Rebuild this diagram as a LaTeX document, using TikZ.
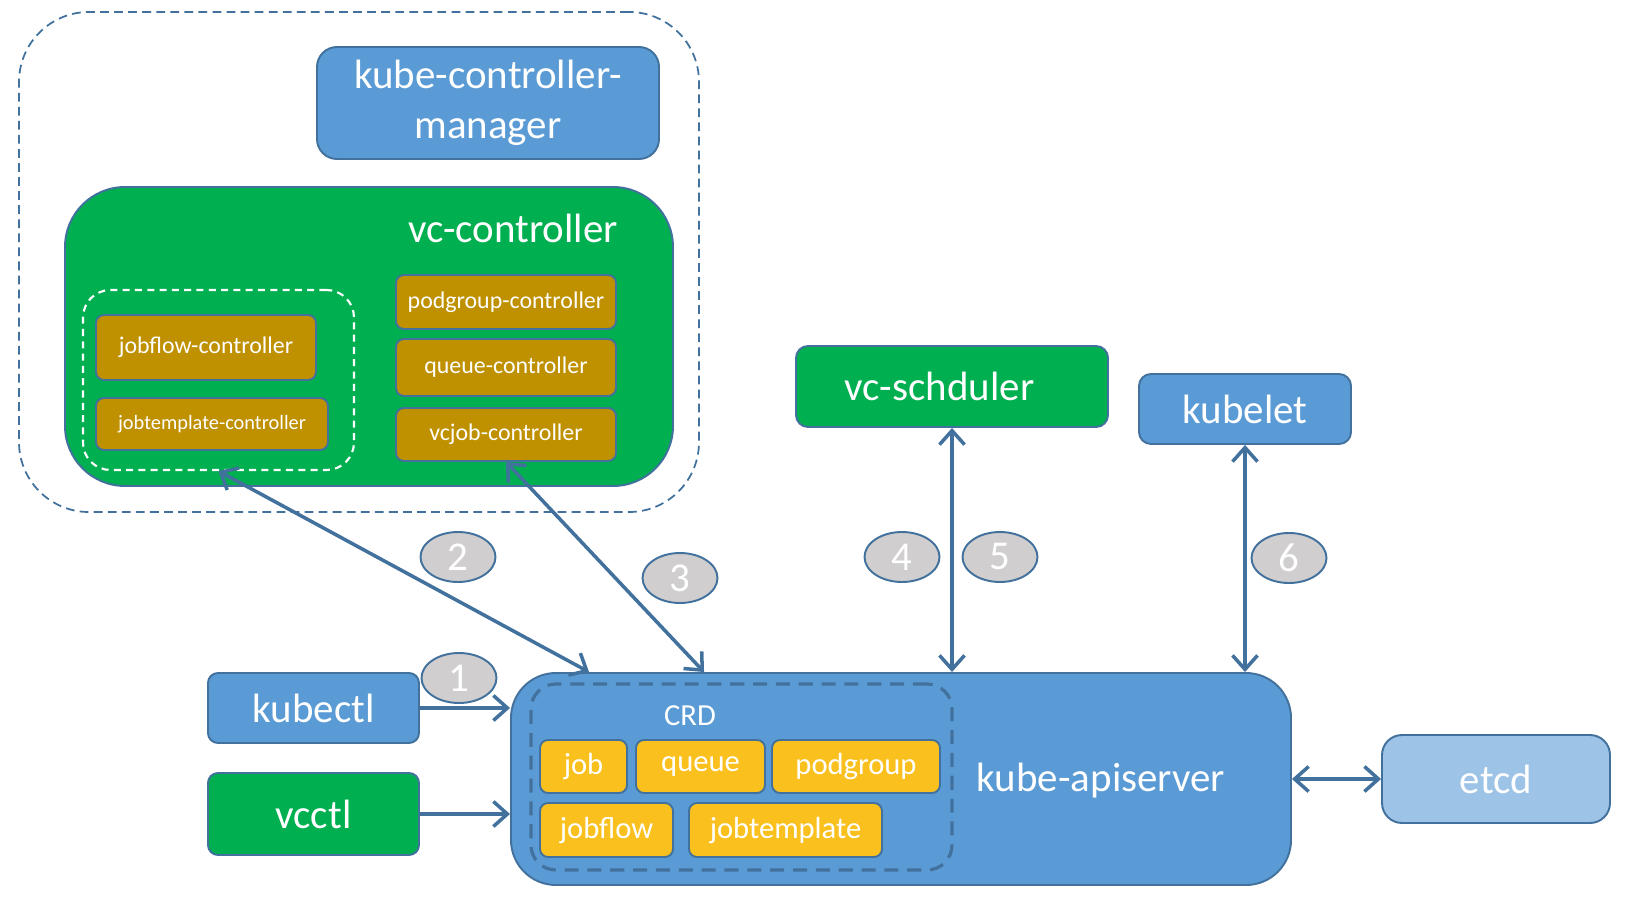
\documentclass[tikz,border=0pt]{standalone}
\usepackage{fontspec}
\setmainfont{Carlito}
\usepackage{xcolor}
\usetikzlibrary{arrows,arrows.meta,shapes,positioning,calc}
\definecolor{kblue}{HTML}{5B9BD5}
\definecolor{kedge}{HTML}{41719C}
\definecolor{kgreen}{HTML}{00B050}
\definecolor{kgold}{HTML}{BF9000}
\definecolor{kyellow}{RGB}{250,192,30}
\definecolor{klight}{HTML}{9DC3E6}
\definecolor{kgray}{HTML}{D0CECE}
\newcommand{\kbig}{\fontsize{23.3}{28.4}\selectfont}
\newcommand{\kmid}{\fontsize{17.4}{20}\selectfont}
\newcommand{\ksmall}{\fontsize{13.6}{16}\selectfont}

\begin{document}
\begin{tikzpicture}[x = 0.2mm, y = -0.2mm,
  box/.style = {draw = kedge, line width = 1.1pt, text = white, inner sep = 0pt, rounded corners = 2.4mm},
  bluebox/.style = {box, fill = kblue, font = \kbig},
  greenbox/.style = {box, fill = kgreen, font = \kbig},
  ctrl/.style = {box, fill = kgold, font = \ksmall, rounded corners = 1.6mm, minimum width = 44mm},
  crd/.style = {box, fill = kyellow, font = \kmid, rounded corners = 1.6mm, minimum height = 10.6mm},
  num/.style = {ellipse, draw = kedge, line width = 1.1pt, fill = kgray, text = white, font = \kbig, inner sep = 0pt, minimum width = 15mm, minimum height = 10mm},
  conn/.style = {draw = kedge, line width = 2pt, >={Straight Barb[length = 2.8mm, width = 5mm]}}]
\useasboundingbox (0,0) rectangle (1632,911);

% controller side
\node[draw = kedge, line width = 1pt, dash pattern = on 5pt off 3pt, rounded corners = 14mm, minimum width = 136mm, minimum height = 100mm] (group) at (359,262) {};
\node[bluebox, rounded corners = 4mm, minimum width = 68.4mm, minimum height = 22.4mm, align = center] (kcm) at (488,103) {\raisebox{-1mm}{kube-controller-}\\\raisebox{-1mm}{manager}};
\node[greenbox, rounded corners = 12mm, minimum width = 121.6mm, minimum height = 59.8mm] (vcc) at (369,336.5) {};
\node[text = white, font = \kbig] (vcctitle) at (513,228) {vc-controller};
\node[draw = white, line width = 1.2pt, dash pattern = on 4pt off 3pt, rounded corners = 5.5mm, minimum width = 54.2mm, minimum height = 36mm] (flowgroup) at (218.5,380) {};
\node[ctrl, minimum height = 13mm] (jobflowc) at (206,347.5) {jobflow-controller};
\node[ctrl, minimum width = 46.4mm, minimum height = 10.4mm, font = \fontsize{11.6}{14}\selectfont] (jobtemplatec) at (212,424) {jobtemplate-controller};
\node[ctrl, minimum height = 10.8mm] (podgroupc) at (506,302) {podgroup-controller};
\node[ctrl, minimum height = 11.4mm] (queuec) at (506,367.5) {queue-controller};
\node[ctrl, minimum height = 10.6mm] (vcjobc) at (506,434.5) {vcjob-controller};

% scheduler and kubelet
\node[greenbox, minimum width = 62.4mm, minimum height = 16.2mm] (sched) at (952,386.5) {\hspace*{-5mm}vc-schduler};
\node[bluebox, minimum width = 42.4mm, minimum height = 14mm] (kubelet) at (1245,409) {kubelet};

% clients
\node[bluebox, rounded corners = 2mm, minimum width = 42.2mm, minimum height = 14mm] (kubectl) at (313.5,708) {kubectl};
\node[greenbox, rounded corners = 2mm, minimum width = 42.2mm, minimum height = 16.4mm] (vcctl) at (313.5,814) {vcctl};

% apiserver
\node[box, fill = kblue, rounded corners = 9mm, minimum width = 156mm, minimum height = 42.4mm] (api) at (901,779) {};
\node[text = white, font = \kbig] (apitext) at (1101,781) {kube-apiserver};
\node[draw = kedge, line width = 1.8pt, dash pattern = on 8pt off 5pt, rounded corners = 5mm, minimum width = 84.2mm, minimum height = 37.2mm] (crdgroup) at (741.5,777) {};
\node[text = white, font = \kmid] (crdtitle) at (690,716) {CRD};
\node[crd, minimum width = 17.4mm] (job) at (583.5,766.5) {job};
\node[crd, minimum width = 25.8mm] (queue) at (700.5,766.5) {queue};
\node[crd, minimum width = 33.6mm] (podgroup) at (856,766.5) {podgroup};
\node[crd, minimum width = 26.6mm, minimum height = 10.8mm] (jobflow) at (606.5,830) {jobflow};
\node[crd, minimum width = 38.6mm, minimum height = 10.8mm] (jobtemplate) at (785.5,830) {jobtemplate};
\node[box, fill = klight, font = \kbig, rounded corners = 4mm, minimum width = 45.6mm, minimum height = 17.6mm] (etcd) at (1496,779) {etcd};

% connectors
\draw[conn, <->] (flowgroup.south) -- ([xshift = 15.8mm]api.north west);
\draw[conn, <->] (vcjobc.south) -- ([xshift = 38.8mm]api.north west);
\draw[conn, <->] (sched.south) -- (sched.south |- api.north);
\draw[conn, <->] (kubelet.south) -- (kubelet.south |- api.north);
\draw[conn, ->] (kubectl.east) -- (kubectl.east -| api.west);
\draw[conn, ->] (vcctl.east) -- (vcctl.east -| api.west);
\draw[conn, <->] (api.east) -- (etcd.west);

% step numbers
\node[num] (n1) at (459,678) {1};
\node[num] (n2) at (458,557) {2};
\node[num] (n3) at (680,578) {3};
\node[num] (n4) at (902,557) {4};
\node[num] (n5) at (1000,557) {5};
\node[num] (n6) at (1289,558) {6};
\end{tikzpicture}
\end{document}
